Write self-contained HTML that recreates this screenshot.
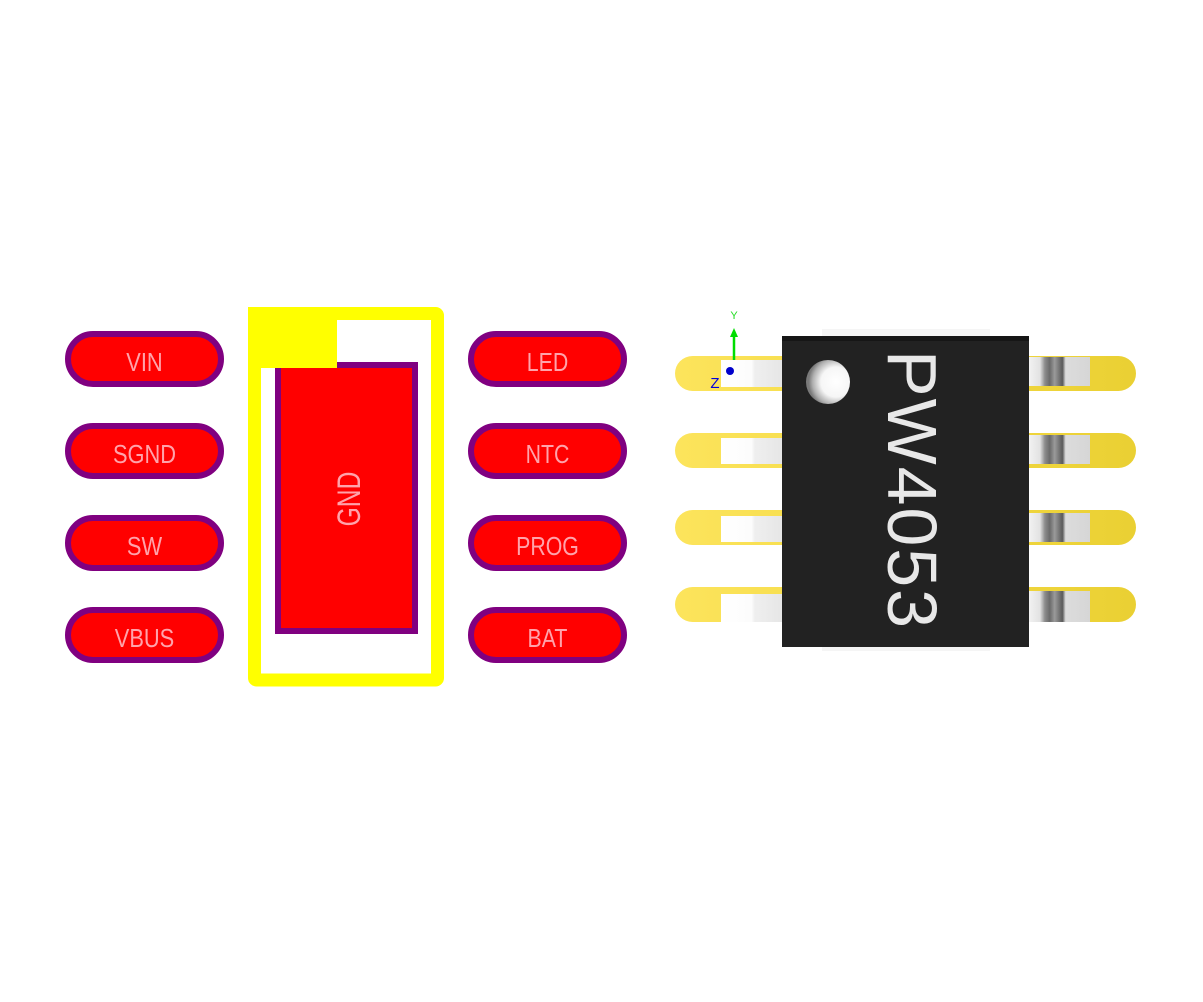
<!DOCTYPE html>
<html>
<head>
<meta charset="utf-8">
<style>
html,body{margin:0;padding:0;background:#ffffff;}
svg{display:block;}
text{font-family:"Liberation Sans",Arial,sans-serif;}
</style>
</head>
<body>
<svg width="1203" height="1002" viewBox="0 0 1203 1002" xmlns="http://www.w3.org/2000/svg">
<defs>
  <linearGradient id="ygrad" gradientUnits="userSpaceOnUse" x1="675" y1="0" x2="1136" y2="0">
    <stop offset="0" stop-color="#fce45c"/>
    <stop offset="0.5" stop-color="#f4da45"/>
    <stop offset="1" stop-color="#ead033"/>
  </linearGradient>
  <linearGradient id="lleadL" x1="0" y1="0" x2="1" y2="0">
    <stop offset="0" stop-color="#ffffff"/>
    <stop offset="0.5" stop-color="#fcfcfc"/>
    <stop offset="0.55" stop-color="#efefef"/>
    <stop offset="1" stop-color="#e6e6e6"/>
  </linearGradient>
  <linearGradient id="lleadR" x1="0" y1="0" x2="1" y2="0">
    <stop offset="0" stop-color="#f2f2f2"/>
    <stop offset="0.18" stop-color="#e2e2e2"/>
    <stop offset="0.26" stop-color="#8c8c8c"/>
    <stop offset="0.34" stop-color="#6a6a6a"/>
    <stop offset="0.42" stop-color="#9a9a9a"/>
    <stop offset="0.55" stop-color="#5a5a5a"/>
    <stop offset="0.6" stop-color="#dcdcdc"/>
    <stop offset="1" stop-color="#d6d6d6"/>
  </linearGradient>
  <radialGradient id="dot" cx="0.68" cy="0.5" r="0.62">
    <stop offset="0" stop-color="#ffffff"/>
    <stop offset="0.55" stop-color="#f6f6f6"/>
    <stop offset="0.85" stop-color="#b0b0b0"/>
    <stop offset="1" stop-color="#7a7a7a"/>
  </radialGradient>
</defs>

<!-- Left column pads -->
<g fill="#ff0000" stroke="#800080" stroke-width="6">
  <rect x="68" y="334" width="153" height="50" rx="25"/>
  <rect x="68" y="426" width="153" height="50" rx="25"/>
  <rect x="68" y="518" width="153" height="50" rx="25"/>
  <rect x="68" y="610" width="153" height="50" rx="25"/>
  <rect x="471" y="334" width="153" height="50" rx="25"/>
  <rect x="471" y="426" width="153" height="50" rx="25"/>
  <rect x="471" y="518" width="153" height="50" rx="25"/>
  <rect x="471" y="610" width="153" height="50" rx="25"/>
</g>
<g fill="#ffa3ab" font-size="26" text-anchor="middle">
  <text transform="translate(144.5,371) scale(0.84,1)">VIN</text>
  <text transform="translate(144.5,463) scale(0.84,1)">SGND</text>
  <text transform="translate(144.5,555) scale(0.84,1)">SW</text>
  <text transform="translate(144.5,647) scale(0.84,1)">VBUS</text>
  <text transform="translate(547.5,371) scale(0.82,1)">LED</text>
  <text transform="translate(547.5,463) scale(0.82,1)">NTC</text>
  <text transform="translate(547.5,555) scale(0.82,1)">PROG</text>
  <text transform="translate(547.5,647) scale(0.82,1)">BAT</text>
</g>

<!-- GND pad -->
<rect x="278" y="365" width="137" height="266" fill="#ff0000" stroke="#800080" stroke-width="6"/>
<text fill="#ffa3ab" font-size="32" text-anchor="middle" transform="translate(360,499) rotate(-90) scale(0.77,1)">GND</text>

<!-- Yellow silkscreen outline -->
<rect x="254.5" y="313.5" width="183" height="366.5" fill="none" stroke="#ffff00" stroke-width="13" rx="2"/>
<rect x="248" y="307" width="89" height="61" fill="#ffff00"/>

<!-- 3D chip: yellow pads -->
<g fill="url(#ygrad)">
  <rect x="675" y="356" width="140" height="35" rx="17.5"/>
  <rect x="675" y="433" width="140" height="35" rx="17.5"/>
  <rect x="675" y="510" width="140" height="35" rx="17.5"/>
  <rect x="675" y="587" width="140" height="35" rx="17.5"/>
  <rect x="996" y="356" width="140" height="35" rx="17.5"/>
  <rect x="996" y="433" width="140" height="35" rx="17.5"/>
  <rect x="996" y="510" width="140" height="35" rx="17.5"/>
  <rect x="996" y="587" width="140" height="35" rx="17.5"/>
</g>

<!-- left leads -->
<g fill="url(#lleadL)">
  <rect x="721" y="360" width="61" height="27"/>
  <rect x="721" y="438" width="61" height="26"/>
  <rect x="721" y="516" width="61" height="26"/>
  <rect x="721" y="594" width="61" height="28"/>
</g>
<!-- right leads -->
<g fill="url(#lleadR)">
  <rect x="1029" y="357" width="61" height="29"/>
  <rect x="1029" y="435" width="61" height="29"/>
  <rect x="1029" y="513" width="61" height="29"/>
  <rect x="1029" y="591" width="61" height="31"/>
</g>

<!-- faint top/bottom bars -->
<rect x="822" y="329" width="168" height="7" fill="#f5f5f5"/>
<rect x="822" y="647" width="168" height="4" fill="#f5f5f5"/>

<!-- chip body -->
<rect x="782" y="336" width="247" height="311" fill="#222222"/>
<rect x="782" y="336" width="247" height="5" fill="#161616"/>

<!-- pin 1 dot -->
<circle cx="828" cy="382" r="22" fill="url(#dot)"/>

<!-- marking -->
<text fill="#e8e8e8" font-size="70" text-anchor="middle" textLength="278" lengthAdjust="spacing" transform="translate(888,489) rotate(90)">PW4053</text>

<!-- axis indicator -->
<line x1="734" y1="336" x2="734" y2="360" stroke="#00dd00" stroke-width="2.5"/>
<polygon points="734,328 730,337 738,337" fill="#00dd00"/>
<text x="734" y="319" fill="#22dd22" font-size="11" text-anchor="middle">Y</text>
<circle cx="730" cy="371" r="4" fill="#0000cc"/>
<text x="715" y="388" fill="#0000dd" font-size="15" text-anchor="middle">Z</text>
</svg>
</body>
</html>
